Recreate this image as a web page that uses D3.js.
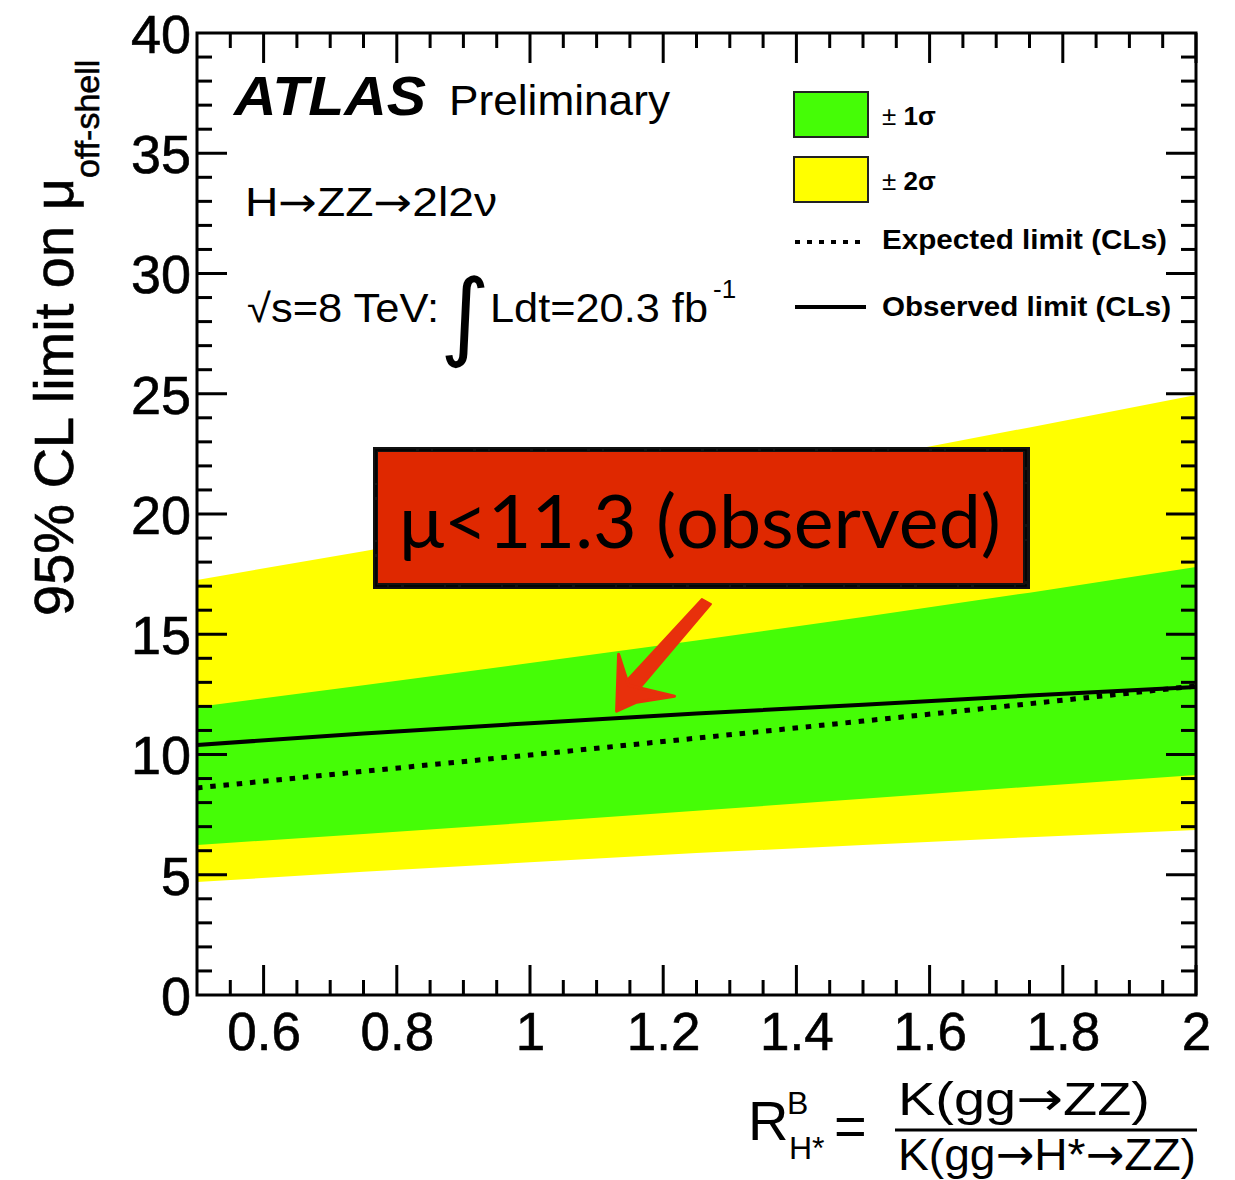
<!DOCTYPE html>
<html>
<head>
<meta charset="utf-8">
<script src="https://cdn.jsdelivr.net/npm/d3@7"></script>
<style>
  html, body { margin: 0; padding: 0; background: #fff; }
  svg { display: block; }
  text { font-family: "Liberation Sans", Arial, Helvetica, sans-serif; fill: #000; }
  .arr { font-family: "DejaVu Sans", sans-serif; }
</style>
</head>
<body>
<svg id="chart" width="1235" height="1180"></svg>
<script>
// R^B_H* scan points
const rValues   = [0.5, 0.75, 1.0, 1.25, 1.5, 1.75, 2.0];
// 95% CL limits on mu_off-shell
const observed  = [10.40, 10.87, 11.30, 11.70, 12.07, 12.45, 12.81];
const expected  = [8.61, 9.30, 9.98, 10.68, 11.39, 12.11, 12.85];
const plus1Sig  = [11.98, 12.88, 13.80, 14.74, 15.72, 16.73, 17.80];
const minus1Sig = [6.24, 6.69, 7.17, 7.66, 8.16, 8.66, 9.15];
const plus2Sig  = [17.26, 18.45, 19.70, 20.98, 22.28, 23.60, 24.95];
const minus2Sig = [4.70, 5.12, 5.52, 5.90, 6.24, 6.56, 6.86];

const xTickValues = [0.6, 0.8, 1.0, 1.2, 1.4, 1.6, 1.8, 2.0];
const xTickLabels = ["0.6", "0.8", "1", "1.2", "1.4", "1.6", "1.8", "2"];
const yTickValues = [0, 5, 10, 15, 20, 25, 30, 35, 40];
const yTickLabels = ["0", "5", "10", "15", "20", "25", "30", "35", "40"];

const observedLimitText = "\u03bc<11.3 (observed)";

const svg = d3.select("#chart");

const x = d3.scaleLinear().domain([0.5, 2.0]).range([197, 1196]);
const y = d3.scaleLinear().domain([0, 40]).range([995, 33]);

const GREEN = "#45fd06";
const YELLOW = "#ffff00";

// uncertainty bands
const bandArea = (lo, hi) => d3.area()
  .x((d, i) => x(rValues[i]))
  .y0((d, i) => y(lo[i]))
  .y1((d, i) => y(hi[i]));

svg.append("path").datum(rValues).attr("d", bandArea(minus2Sig, plus2Sig)).attr("fill", YELLOW);
svg.append("path").datum(rValues).attr("d", bandArea(minus1Sig, plus1Sig)).attr("fill", GREEN);

// limit curves
const curve = vals => d3.line().x((d, i) => x(rValues[i])).y((d, i) => y(vals[i]));
svg.append("path").datum(rValues).attr("d", curve(expected))
  .attr("fill", "none").attr("stroke", "#000").attr("stroke-width", 5)
  .attr("stroke-dasharray", "5.5,7.8");
svg.append("path").datum(rValues).attr("d", curve(observed))
  .attr("fill", "none").attr("stroke", "#000").attr("stroke-width", 4);

// frame with inward ticks on all four sides
const majorLen = 30, minorLen = 15;
const tickG = svg.append("g").attr("stroke", "#000").attr("stroke-width", 3);
const xMinor = d3.range(0.55, 2.0001, 0.05).map(v => +v.toFixed(2));
xMinor.forEach(v => {
  const isMajor = xTickValues.some(t => Math.abs(t - v) < 1e-6);
  const L = isMajor ? majorLen : minorLen;
  tickG.append("line").attr("x1", x(v)).attr("x2", x(v)).attr("y1", y(0)).attr("y2", y(0) - L);
  tickG.append("line").attr("x1", x(v)).attr("x2", x(v)).attr("y1", y(40)).attr("y2", y(40) + L);
});
d3.range(1, 40).forEach(v => {
  const L = v % 5 === 0 ? majorLen : minorLen;
  tickG.append("line").attr("x1", x(0.5)).attr("x2", x(0.5) + L).attr("y1", y(v)).attr("y2", y(v));
  tickG.append("line").attr("x1", x(2)).attr("x2", x(2) - L).attr("y1", y(v)).attr("y2", y(v));
});
svg.append("rect")
  .attr("x", x(0.5)).attr("y", y(40))
  .attr("width", x(2) - x(0.5)).attr("height", y(0) - y(40))
  .attr("fill", "none").attr("stroke", "#000").attr("stroke-width", 3);

// tick labels
const xAxis = d3.axisBottom(x).tickValues(xTickValues)
  .tickFormat((d, i) => xTickLabels[i]).tickSize(0).tickPadding(0);
const xg = svg.append("g").attr("transform", `translate(0,${y(0)})`).call(xAxis);
xg.select(".domain").remove();
xg.selectAll("text").attr("y", 55).attr("dy", null)
  .style("font-size", "53px").style("font-family", "'Liberation Sans', Arial, sans-serif")
  .style("stroke", "#000").style("stroke-width", 0.6);

const yAxis = d3.axisLeft(y).tickValues(yTickValues)
  .tickFormat((d, i) => yTickLabels[i]).tickSize(0).tickPadding(0);
const yg = svg.append("g").attr("transform", `translate(${x(0.5) - 6},0)`).call(yAxis);
yg.select(".domain").remove();
yg.selectAll("text").attr("dy", "0.36em")
  .style("font-size", "54px").style("font-family", "'Liberation Sans', Arial, sans-serif")
  .style("stroke", "#000").style("stroke-width", 0.6);

// y-axis title
const yTitle = svg.append("text")
  .attr("transform", "translate(73,616) rotate(-90)")
  .style("font-size", "56px").style("stroke", "#000").style("stroke-width", 0.6);
yTitle.append("tspan").text("95% CL limit on \u03bc");
yTitle.append("tspan").attr("dy", 26).style("font-size", "34px").text("off-shell");

// x-axis title
const xt = svg.append("g");
xt.append("text").attr("x", 748).attr("y", 1140).style("font-size", "56px").text("R");
xt.append("text").attr("x", 787).attr("y", 1114).style("font-size", "32px").text("B");
xt.append("text").attr("x", 789).attr("y", 1159).style("font-size", "32px").text("H*");
xt.append("text").attr("x", 834).attr("y", 1145).style("font-size", "56px").text("=");
const num = xt.append("text").attr("x", 898).attr("y", 1115).style("font-size", "47px")
  .attr("textLength", 252).attr("lengthAdjust", "spacingAndGlyphs");
num.append("tspan").text("K(gg");
num.append("tspan").attr("class", "arr").text("\u2192");
num.append("tspan").text("ZZ)");
xt.append("line").attr("x1", 895).attr("x2", 1197).attr("y1", 1130).attr("y2", 1130)
  .attr("stroke", "#000").attr("stroke-width", 3);
const den = xt.append("text").attr("x", 898).attr("y", 1170).style("font-size", "45px")
  .attr("textLength", 298).attr("lengthAdjust", "spacingAndGlyphs");
den.append("tspan").text("K(gg");
den.append("tspan").attr("class", "arr").text("\u2192");
den.append("tspan").text("H*");
den.append("tspan").attr("class", "arr").text("\u2192");
den.append("tspan").text("ZZ)");

// experiment labels
svg.append("text").attr("x", 234).attr("y", 115)
  .style("font-size", "56px").style("font-weight", "bold").style("font-style", "italic")
  .attr("textLength", 192).attr("lengthAdjust", "spacingAndGlyphs").text("ATLAS");
svg.append("text").attr("x", 449).attr("y", 115).style("font-size", "42px")
  .attr("textLength", 221).attr("lengthAdjust", "spacingAndGlyphs").text("Preliminary");
const decay = svg.append("text").attr("x", 245).attr("y", 216).style("font-size", "40px")
  .attr("textLength", 252).attr("lengthAdjust", "spacingAndGlyphs");
decay.append("tspan").text("H");
decay.append("tspan").attr("class", "arr").text("\u2192");
decay.append("tspan").text("ZZ");
decay.append("tspan").attr("class", "arr").text("\u2192");
decay.append("tspan").text("2l2\u03bd");
svg.append("text").attr("x", 247).attr("y", 322).style("font-size", "40px")
  .attr("textLength", 192).attr("lengthAdjust", "spacingAndGlyphs").text("\u221as=8 TeV:");
svg.append("text").attr("x", 440).attr("y", 348).style("font-size", "96px")
  .style("font-family", "'DejaVu Sans', sans-serif").text("\u222b");
svg.append("text").attr("x", 490).attr("y", 322).style("font-size", "40px")
  .attr("textLength", 218).attr("lengthAdjust", "spacingAndGlyphs").text("Ldt=20.3 fb");
svg.append("text").attr("x", 713).attr("y", 298).style("font-size", "26px").text("-1");

// legend
const lg = svg.append("g");
lg.append("rect").attr("x", 794).attr("y", 92).attr("width", 74).attr("height", 45)
  .attr("fill", GREEN).attr("stroke", "#222").attr("stroke-width", 2);
lg.append("rect").attr("x", 794).attr("y", 157).attr("width", 74).attr("height", 45)
  .attr("fill", YELLOW).attr("stroke", "#222").attr("stroke-width", 2);
const sig1 = lg.append("text").attr("x", 882).attr("y", 125).style("font-size", "26px");
sig1.append("tspan").text("\u00b1 ");
sig1.append("tspan").style("font-weight", "bold").text("1\u03c3");
const sig2 = lg.append("text").attr("x", 882).attr("y", 190).style("font-size", "26px");
sig2.append("tspan").text("\u00b1 ");
sig2.append("tspan").style("font-weight", "bold").text("2\u03c3");
lg.append("line").attr("x1", 795).attr("x2", 866).attr("y1", 242).attr("y2", 242)
  .attr("stroke", "#000").attr("stroke-width", 4).attr("stroke-dasharray", "5,7");
lg.append("text").attr("x", 882).attr("y", 249).style("font-size", "28px").style("font-weight", "bold")
  .attr("textLength", 285).attr("lengthAdjust", "spacingAndGlyphs").text("Expected limit (CLs)");
lg.append("line").attr("x1", 795).attr("x2", 866).attr("y1", 307).attr("y2", 307)
  .attr("stroke", "#000").attr("stroke-width", 4);
lg.append("text").attr("x", 882).attr("y", 316).style("font-size", "28px").style("font-weight", "bold")
  .attr("textLength", 289).attr("lengthAdjust", "spacingAndGlyphs").text("Observed limit (CLs)");

// callout box with the observed limit at R = 1
const cb = svg.append("g");
cb.append("rect").attr("x", 373).attr("y", 447).attr("width", 657).attr("height", 142)
  .attr("fill", "#111");
cb.append("rect").attr("x", 378).attr("y", 452).attr("width", 645).attr("height", 131)
  .attr("fill", "#df2800");
cb.append("rect").attr("x", 376).attr("y", 450).attr("width", 650).attr("height", 136)
  .attr("fill", "none").attr("stroke", "#000").attr("stroke-width", 1.5).attr("stroke-dasharray", "40,3,12,2");
cb.append("text").attr("x", 399).attr("y", 548)
  .style("font-family", "Lato, 'Open Sans', sans-serif").style("font-size", "74px")
  .attr("textLength", 602).attr("lengthAdjust", "spacingAndGlyphs")
  .text(observedLimitText);

// hand-drawn style arrow pointing at the observed curve
const tip = [x(1.13), y(11.8)];
const ag = svg.append("g").attr("fill", "#e8300c").attr("stroke", "#e8300c")
  .attr("stroke-linejoin", "round");
ag.append("path")
  .attr("d", `M702,599 L711,604 L${tip[0] + 14},${tip[1] - 12} L${tip[0] + 2},${tip[1] - 22} Z`)
  .attr("stroke-width", 2);
ag.append("path")
  .attr("d", `M${tip[0]},${tip[1]} L${tip[0] + 2},${tip[1] - 57} L${tip[0] + 12},${tip[1] - 26} L${tip[0] + 58},${tip[1] - 15} L${tip[0] + 20},${tip[1] - 9} Z`)
  .attr("stroke-width", 3);
</script>
</body>
</html>
